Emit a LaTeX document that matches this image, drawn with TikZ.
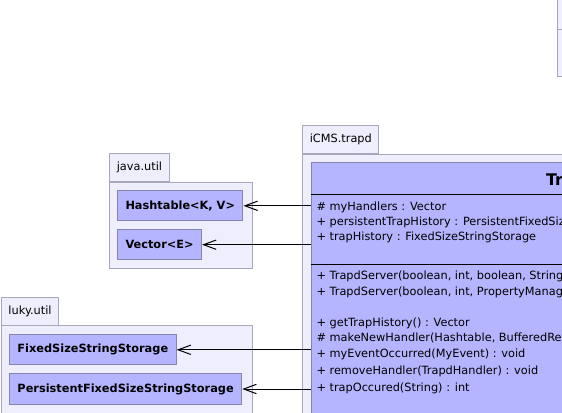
\documentclass[tikz,border=0pt]{standalone}
\usepackage{fontspec}
\setmainfont{DejaVu Sans}
\usetikzlibrary{arrows.meta}

\definecolor{pkgfill}{HTML}{EEEEFC}
\definecolor{pkgline}{HTML}{A8A8BC}
\definecolor{clsfill}{HTML}{B5B5FF}
\definecolor{clsline}{HTML}{8484AC}

\begin{document}
\begin{tikzpicture}[x = 0.75pt, y = -0.75pt, line width = 0.75pt,
	> = {Straight Barb[length = 9.5pt, width = 7pt]},
	pkgtab/.style = {draw = pkgline, fill = pkgfill, anchor = south west, inner xsep = 5.25pt,
		minimum height = 21pt, font = \fontsize{8.5}{10}\selectfont},
	pkgbody/.style = {draw = pkgline, fill = pkgfill},
	clsbox/.style = {draw = clsline, fill = clsfill, anchor = west, inner xsep = 6pt,
		minimum height = 22.75pt, font = \bfseries\fontsize{8.5}{10}\selectfont},
	member/.style = {anchor = base west, inner sep = 0pt, font = \fontsize{8.5}{10}\selectfont},
	dep/.style = {->}]

	\useasboundingbox (0, 0) rectangle (562, 412);
	\clip (0, 0) rectangle (562, 412);

	% Packages

	\draw [pkgbody] (557.3, -2) rectangle (620, 29.3);
	\draw [pkgbody] (557.3, 29.3) rectangle (620, 76);

	\node [pkgtab] (javatab) at (109.3, 182.3) {java.util};
	\draw [pkgbody] (javatab.south west) rectangle (252.3, 268.3);

	\node [pkgtab] (lukytab) at (1, 325.7) {luky.util};
	\draw [pkgbody] (lukytab.south west) rectangle (252.3, 430);

	\node [pkgtab] (trapdtab) at (302.3, 154) {iCMS.trapd};
	\draw [pkgbody] (trapdtab.south west) rectangle (620, 430);

	% Classes

	\node [clsbox] (hashtable) at (117, 205.8) {Hashtable<K, V>};
	\node [clsbox] (vector) at (117, 244.7) {Vector<E>};
	\node [clsbox] (fixedstore) at (9, 349.8) {FixedSizeStringStorage};
	\node [clsbox] (persiststore) at (9, 389) {PersistentFixedSizeStringStorage};

	\node [draw = clsline, fill = clsfill, anchor = north west, inner sep = 0pt,
		minimum width = 300pt, minimum height = 210pt] (server) at (310.7, 162.3) {};
	\node [anchor = base west, inner sep = 0pt, font = \bfseries\fontsize{12}{14}\selectfont]
		(servertitle) at (545.5, 185) {TrapdServer};
	\draw (310.7, 194.3) -- (620, 194.3);
	\draw (310.7, 264) -- (620, 264);

	% Members

	\foreach \y/\txt [count = \i] in {210.3/{\# myHandlers : Vector},
			225.3/{+ persistentTrapHistory : PersistentFixedSizeStringStorage},
			240.3/{+ trapHistory : FixedSizeStringStorage}}
		\node [member] (attr\i) at (316, \y) {\txt};

	\foreach \y/\txt [count = \i] in {279.3/{+ TrapdServer(boolean, int, boolean, String)},
			295.3/{+ TrapdServer(boolean, int, PropertyManager)},
			326/{+ getTrapHistory() : Vector},
			341.6/{\# makeNewHandler(Hashtable, BufferedReader)},
			357.6/{+ myEventOccurred(MyEvent) : void},
			374.3/{+ removeHandler(TrapdHandler) : void},
			391.5/{+ trapOccured(String) : int}}
		\node [member] (meth\i) at (316, \y) {\txt};

	% Dependencies

	\draw [dep] (hashtable.east -| server.west) -- (hashtable.east);
	\draw [dep] (vector.east -| server.west) -- (vector.east);
	\draw [dep] (fixedstore.east -| server.west) -- (fixedstore.east);
	\draw [dep] (persiststore.east -| server.west) -- (persiststore.east);

\end{tikzpicture}
\end{document}
